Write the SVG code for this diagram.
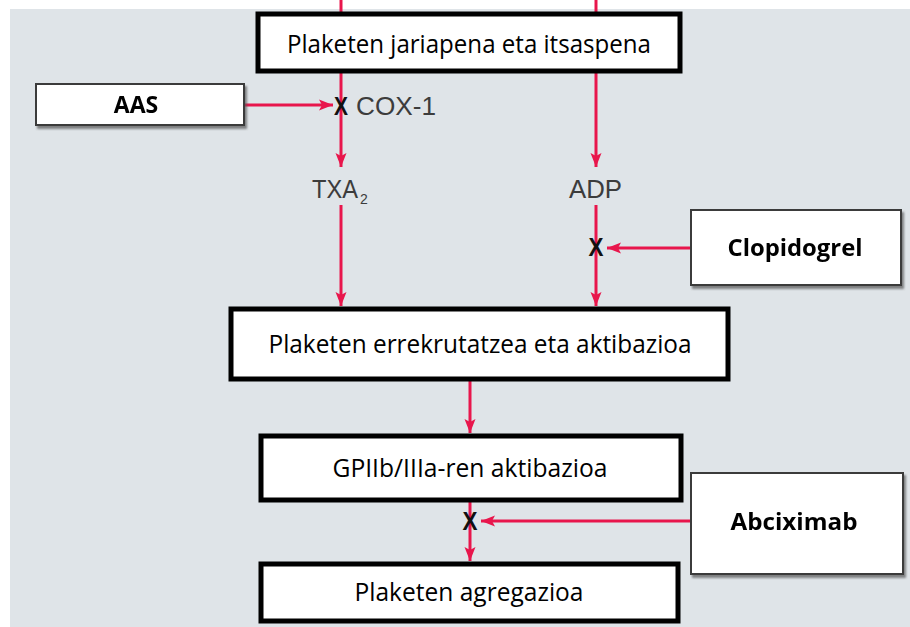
<svg xmlns="http://www.w3.org/2000/svg" width="910" height="627" viewBox="0 0 910 627">
<defs>
<marker id="ah" markerUnits="userSpaceOnUse" markerWidth="14" markerHeight="14" viewBox="0 0 14 14" refX="14" refY="7" orient="auto">
<path d="M0,1.5 L14,7 L0,12.5 L3,7 Z" fill="#e8164c"/>
</marker>
<filter id="sh" x="-10%" y="-10%" width="130%" height="140%">
<feDropShadow dx="2" dy="3" stdDeviation="1.2" flood-color="#555" flood-opacity="0.7"/>
</filter>
</defs>
<style>
.main rect{fill:#fff;stroke:#000;stroke-width:5}
.drug rect{fill:#fff;stroke:#3a3a3a;stroke-width:2}
.mt{font-family:"Open Sans","Liberation Sans",sans-serif;font-size:26px;fill:#000;text-anchor:middle}
.dt{font-family:"Open Sans","Liberation Sans",sans-serif;font-size:23px;font-weight:bold;fill:#000;text-anchor:middle}
.lb{font-family:"Liberation Sans",Arial,sans-serif;font-size:25px;fill:#3c3c3c}
.sub{font-family:"Liberation Sans",Arial,sans-serif;font-size:14px;fill:#3c3c3c}
.x{font-family:"Liberation Sans",Arial,sans-serif;font-size:25px;font-weight:bold;fill:#111;text-anchor:middle}
.c line{stroke:#e8164c;stroke-width:3}
</style>
<rect x="10" y="9" width="900" height="618" fill="#dfe4e8"/>
<g id="connectors" class="c">
<line x1="341" y1="0" x2="341" y2="12"/>
<line x1="596" y1="0" x2="596" y2="12"/>
<line x1="341" y1="72" x2="341" y2="167" marker-end="url(#ah)"/>
<line x1="596" y1="72" x2="596" y2="167" marker-end="url(#ah)"/>
<line x1="245" y1="105" x2="333" y2="105" marker-end="url(#ah)"/>
<line x1="341" y1="205" x2="341" y2="306" marker-end="url(#ah)"/>
<line x1="596" y1="205" x2="596" y2="306" marker-end="url(#ah)"/>
<line x1="691" y1="248" x2="607" y2="248" marker-end="url(#ah)"/>
<line x1="470" y1="381" x2="470" y2="433" marker-end="url(#ah)"/>
<line x1="470" y1="502" x2="470" y2="561" marker-end="url(#ah)"/>
<line x1="691" y1="521" x2="481" y2="521" marker-end="url(#ah)"/>
</g>
<g id="labels">
<text class="x" x="341" y="115" textLength="14" lengthAdjust="spacingAndGlyphs">X</text>
<text class="lb" x="356" y="115" textLength="80" lengthAdjust="spacingAndGlyphs">COX-1</text>
<text class="lb" x="312" y="198" textLength="46" lengthAdjust="spacingAndGlyphs">TXA</text>
<text class="sub" x="360" y="204">2</text>
<text class="lb" x="569" y="198" textLength="53" lengthAdjust="spacingAndGlyphs">ADP</text>
<text class="x" x="596" y="256" textLength="15" lengthAdjust="spacingAndGlyphs">X</text>
<text class="x" x="470" y="530" textLength="15" lengthAdjust="spacingAndGlyphs">X</text>
</g>
<g id="n-release" class="main">
<rect x="258" y="14" width="422" height="57"/>
<text class="mt" x="469" y="53" textLength="364" lengthAdjust="spacingAndGlyphs">Plaketen jariapena eta itsaspena</text>
</g>
<g id="n-aas" class="drug" filter="url(#sh)">
<rect x="36" y="84" width="208" height="41"/>
<text class="dt" x="136" y="113">AAS</text>
</g>
<g id="n-clopidogrel" class="drug" filter="url(#sh)">
<rect x="691" y="210" width="210" height="75"/>
<text class="dt" x="795" y="256" textLength="135" lengthAdjust="spacingAndGlyphs">Clopidogrel</text>
</g>
<g id="n-recruit" class="main">
<rect x="231" y="309" width="497" height="70"/>
<text class="mt" x="480" y="353" textLength="423" lengthAdjust="spacingAndGlyphs">Plaketen errekrutatzea eta aktibazioa</text>
</g>
<g id="n-gp" class="main">
<rect x="261" y="436" width="420" height="64"/>
<text class="mt" x="470" y="477" textLength="275" lengthAdjust="spacingAndGlyphs">GPIIb/IIIa-ren aktibazioa</text>
</g>
<g id="n-abciximab" class="drug" filter="url(#sh)">
<rect x="691" y="473" width="212" height="101"/>
<text class="dt" x="794" y="530" textLength="127" lengthAdjust="spacingAndGlyphs">Abciximab</text>
</g>
<g id="n-aggregation" class="main">
<rect x="261" y="564" width="417" height="57"/>
<text class="mt" x="469" y="601" textLength="229" lengthAdjust="spacingAndGlyphs">Plaketen agregazioa</text>
</g>
</svg>
